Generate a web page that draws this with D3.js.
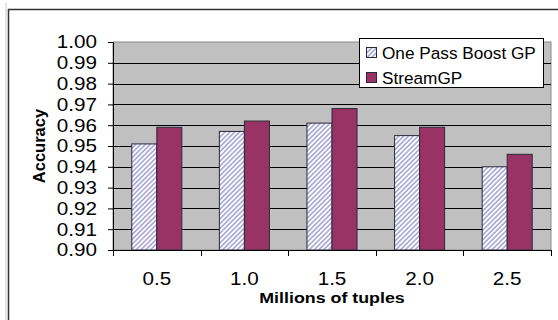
<!DOCTYPE html>
<html>
<head>
<meta charset="utf-8">
<script src="https://cdn.jsdelivr.net/npm/d3@7"></script>
<style>
  html, body { margin: 0; padding: 0; background: #fff; }
  svg { display: block; font-family: "Liberation Sans", Arial, sans-serif; }
</style>
</head>
<body>
<svg id="chart" width="558" height="320"></svg>
<script>
// Accuracy per data size
const categories = ["0.5", "1.0", "1.5", "2.0", "2.5"];
const onePassBoost = [0.951, 0.957, 0.961, 0.955, 0.940];
const streamGP = [0.959, 0.962, 0.968, 0.959, 0.946];
const seriesNames = ["One Pass Boost GP", "StreamGP"];
const yTickValues = [0.90, 0.91, 0.92, 0.93, 0.94, 0.95, 0.96, 0.97, 0.98, 0.99, 1.00];

const svg = d3.select("#chart");
const W = 558, H = 320;
const plot = { left: 113, right: 551, top: 42, bottom: 250 };

// outer chart frame
svg.append("line").attr("x1", 6).attr("x2", 6).attr("y1", 3).attr("y2", H)
  .attr("stroke", "#c8c8c8").attr("stroke-width", 1);
svg.append("path").attr("d", `M8.5,${H} V9.5 H${W}`)
  .attr("fill", "none").attr("stroke", "#333").attr("stroke-width", 1.5);

const y = d3.scaleLinear().domain([0.90, 1.00]).range([plot.bottom, plot.top]);
const x = d3.scaleBand().domain(categories).range([plot.left, plot.right])
  .paddingInner(0.4286).paddingOuter(0.2143);
const xs = d3.scaleBand().domain(seriesNames).range([0, x.bandwidth()]);

// plot area
svg.append("rect")
  .attr("x", plot.left).attr("y", plot.top)
  .attr("width", plot.right - plot.left).attr("height", plot.bottom - plot.top)
  .attr("fill", "#c0c0c0").attr("stroke", "#8a8a8a").attr("stroke-width", 1);

// hatched fill for the first series
const defs = svg.append("defs");
const pat = defs.append("pattern").attr("id", "hatch")
  .attr("patternUnits", "userSpaceOnUse").attr("width", 3.4).attr("height", 3.4)
  .attr("patternTransform", "rotate(45)");
pat.append("rect").attr("width", 3.4).attr("height", 3.4).attr("fill", "#ffffff");
pat.append("line").attr("x1", 0.9).attr("x2", 0.9).attr("y1", 0).attr("y2", 3.4)
  .attr("stroke", "#9a9ad0").attr("stroke-width", 1.4);

// gridlines
svg.append("g").selectAll("line")
  .data(yTickValues.filter(v => v > 0.905 && v < 0.995))
  .join("line")
  .attr("x1", plot.left).attr("x2", plot.right)
  .attr("y1", d => Math.round(y(d)) + 0.5).attr("y2", d => Math.round(y(d)) + 0.5)
  .attr("stroke", "#000").attr("stroke-width", 1);

// bars
const series = [
  { name: seriesNames[0], values: onePassBoost, fill: "url(#hatch)" },
  { name: seriesNames[1], values: streamGP, fill: "#993366" }
];
series.forEach(s => {
  svg.append("g").selectAll("rect")
    .data(categories.map((c, i) => ({ c, v: s.values[i] })))
    .join("rect")
    .attr("x", d => x(d.c) + xs(s.name))
    .attr("y", d => y(d.v))
    .attr("width", xs.bandwidth())
    .attr("height", d => y(0.90) - y(d.v))
    .attr("fill", s.fill)
    .attr("stroke", "#2a2a3a").attr("stroke-width", 1);
});

// y axis
const yAxis = d3.axisLeft(y).tickValues(yTickValues).tickSize(5)
  .tickFormat(d3.format(".2f"));
const gy = svg.append("g").attr("transform", `translate(${plot.left},0)`).call(yAxis);
gy.select(".domain").attr("stroke", "#000");
gy.selectAll(".tick line").attr("stroke", "#000");
gy.selectAll(".tick text")
  .attr("x", null).attr("dy", null)
  .attr("font-size", 17.5).attr("fill", "#000")
  .attr("font-family", "Liberation Sans, Arial, sans-serif")
  .attr("dominant-baseline", "central")
  .attr("text-anchor", "end")
  .attr("transform", "translate(-16,0) scale(1.18,1)");

// x axis: ticks at category boundaries
const xAxis = d3.axisBottom(x).tickSize(0).tickFormat(d => d);
const gx = svg.append("g").attr("transform", `translate(0,${plot.bottom})`).call(xAxis);
gx.select(".domain").attr("stroke", "#000");
gx.selectAll(".tick text")
  .attr("y", null).attr("dy", null)
  .attr("font-size", 17.5).attr("fill", "#000")
  .attr("font-family", "Liberation Sans, Arial, sans-serif")
  .attr("transform", "translate(0,35) scale(1.18,1)");
const bounds = categories.map(c => x(c) - x.step() * x.paddingInner() / 2)
  .concat([plot.right]);
gx.append("g").selectAll("line").data(bounds).join("line")
  .attr("x1", d => Math.round(d) + 0.5).attr("x2", d => Math.round(d) + 0.5)
  .attr("y1", 0).attr("y2", 6).attr("stroke", "#000");

// axis titles
svg.append("text")
  .attr("transform", `translate(${(plot.left + plot.right) / 2},303) scale(1.15,1)`)
  .attr("text-anchor", "middle").attr("font-weight", "bold").attr("font-size", 15.5)
  .text("Millions of tuples");
svg.append("text")
  .attr("transform", "translate(45,146) rotate(-90)")
  .attr("text-anchor", "middle").attr("font-weight", "bold").attr("font-size", 16.5)
  .text("Accuracy");

// legend
const lg = svg.append("g");
lg.append("rect").attr("x", 359.5).attr("y", 38.5).attr("width", 184).attr("height", 49)
  .attr("fill", "#fff").attr("stroke", "#000").attr("stroke-width", 1);
series.forEach((s, i) => {
  const rowY = 47.5 + i * 25;
  lg.append("rect").attr("x", 366.5).attr("y", rowY).attr("width", 10).attr("height", 10)
    .attr("fill", s.fill).attr("stroke", "#2a2a3a").attr("stroke-width", 1);
  lg.append("text").attr("x", 382).attr("y", rowY + 11)
    .attr("font-size", 17.2).attr("fill", "#000").text(s.name);
});
</script>
</body>
</html>
